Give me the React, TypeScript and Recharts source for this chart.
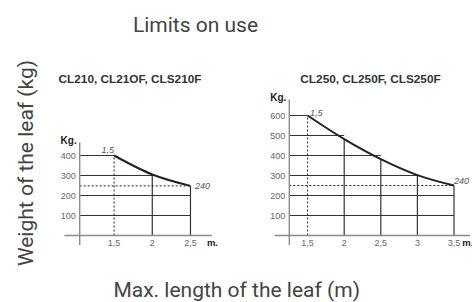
import React from 'react';
import { ComposedChart, Line, XAxis, YAxis, ReferenceLine } from 'recharts';

// ---- Left panel data (CL210 family) ----
const leftTitle = 'CL210, CL21OF, CLS210F';
const leftLengths = [1.5, 2, 2.5];
const leftWeights = [400, 305, 248];
const leftXTicks = [1.5, 2, 2.5];
const leftXTickLabels = ['1,5', '2', '2,5'];
const leftYTicks = [100, 200, 300, 400];
const leftStartLabel = '1,5';
const leftEndLabel = '240';

// ---- Right panel data (CL250 family) ----
const rightTitle = 'CL250, CL250F, CLS250F';
const rightLengths = [1.5, 2, 2.5, 3, 3.5];
const rightWeights = [600, 482, 382, 302, 250];
const rightXTicks = [1.5, 2, 2.5, 3, 3.5];
const rightXTickLabels = ['1,5', '2', '2,5', '3', '3,5'];
const rightYTicks = [100, 200, 300, 400, 500, 600];
const rightStartLabel = '1,5';
const rightEndLabel = '240';

// ---- Shared texts ----
const mainTitle = 'Limits on use';
const xAxisTitle = 'Max. length of the leaf (m)';
const yAxisTitle = 'Weight of the leaf (kg)';
const yUnit = 'Kg.';
const xUnit = 'm.';

const SANS = '"Liberation Sans", Arial, sans-serif';
const ROBOTO = 'Roboto, "Noto Sans", sans-serif';

type PanelProps = {
  lengths: number[];
  weights: number[];
  xTicks: number[];
  xTickLabels: string[];
  yTicks: number[];
  startLabel: string;
  endLabel: string;
  xDomain: [number, number];
  yDomain: [number, number];
  xAxisExtent: [number, number];
  yAxisBottom: number;
  margin: { top: number; right: number; bottom: number; left: number };
  startLabelDx: number;
  startLabelDy: number;
  startAnchor: 'start' | 'end';
  endLabelDx: number;
  endLabelDy: number;
  mDx: number;
};

function Panel(p: PanelProps) {
  const data = p.lengths.map((x, i) => ({ x, w: p.weights[i] }));
  const last = data.length - 1;
  const x0 = p.xDomain[0];
  const xs = p.lengths;
  const ws = p.weights;

  // end of a horizontal grid line: the sample nearest to where the curve crosses it
  const gridEnd = (v: number) => {
    if (v <= ws[last]) return xs[last];
    for (let i = 0; i < last; i++) {
      if (ws[i] >= v && v >= ws[i + 1]) {
        const xi = xs[i] + ((ws[i] - v) / (ws[i] - ws[i + 1])) * (xs[i + 1] - xs[i]);
        let best = xs[0];
        for (const x of xs) if (Math.abs(x - xi) < Math.abs(best - xi)) best = x;
        return best;
      }
    }
    return xs[0];
  };

  const renderAnnot = (lp: any) => {
    const { x, y, index } = lp;
    if (index === 0) {
      return (
        <text x={x + p.startLabelDx} y={y + p.startLabelDy} textAnchor={p.startAnchor}
          fontSize={9} fontStyle="italic" fill="#555" fontFamily={SANS}>{p.startLabel}</text>
      );
    }
    if (index === last) {
      return (
        <text x={x + p.endLabelDx} y={y + p.endLabelDy} textAnchor="start"
          fontSize={9} fontStyle="italic" fill="#555" fontFamily={SANS}>{p.endLabel}</text>
      );
    }
    return <g />;
  };

  return (
    <div style={{ position: 'absolute', left: 0, top: 0 }}>
      <ComposedChart width={472} height={302} data={data} margin={p.margin}>
        <XAxis
          dataKey="x"
          type="number"
          domain={p.xDomain}
          ticks={p.xTicks}
          interval={0}
          allowDataOverflow
          tickFormatter={(v: number) => p.xTickLabels[p.xTicks.indexOf(v)]}
          axisLine={false}
          tickLine={false}
          tickSize={0}
          tickMargin={4}
          height={20}
          tick={{ fontSize: 9, fill: '#666', fontFamily: SANS }}
          label={{
            value: xUnit,
            content: (lp: any) => {
              const vb = lp.viewBox;
              return (
                <text x={vb.x + vb.width + p.mDx} y={vb.y + 10.5} fontSize={9.5} fontWeight="bold"
                  fill="#222" fontFamily={SANS}>{xUnit}</text>
              );
            },
          }}
        />
        <YAxis
          type="number"
          domain={p.yDomain}
          ticks={p.yTicks}
          interval={0}
          allowDataOverflow
          axisLine={false}
          tickLine={false}
          tickSize={0}
          tickMargin={4}
          width={30}
          tick={{ fontSize: 9, fill: '#666', fontFamily: SANS }}
          label={{
            value: yUnit,
            content: (lp: any) => {
              const vb = lp.viewBox;
              return (
                <text x={vb.x + vb.width - 3} y={vb.y + 1} textAnchor="end" fontSize={10}
                  fontWeight="bold" fill="#222" fontFamily={SANS}>{yUnit}</text>
              );
            },
          }}
        />
        {/* horizontal grid lines clipped at the curve */}
        {p.yTicks.map((v) => (
          <ReferenceLine key={'h' + v} ifOverflow="visible" stroke="#333" strokeWidth={1}
            segment={[{ x: x0, y: v }, { x: gridEnd(v), y: v }]} />
        ))}
        {/* vertical lines from axis to curve */}
        {data.slice(1).map((d) => (
          <ReferenceLine key={'v' + d.x} ifOverflow="visible" stroke="#333" strokeWidth={1.2}
            segment={[{ x: d.x, y: 0 }, { x: d.x, y: d.w }]} />
        ))}
        {/* dashed guides */}
        <ReferenceLine ifOverflow="visible" stroke="#222" strokeWidth={1} strokeDasharray="2 2"
          segment={[{ x: xs[0], y: 0 }, { x: xs[0], y: ws[0] }]} />
        <ReferenceLine ifOverflow="visible" stroke="#222" strokeWidth={1} strokeDasharray="2 2"
          segment={[{ x: x0, y: ws[last] }, { x: xs[last], y: ws[last] }]} />
        {/* axis lines */}
        <ReferenceLine ifOverflow="visible" stroke="#8c8c8c" strokeWidth={1.4}
          segment={[{ x: p.xAxisExtent[0], y: 0 }, { x: p.xAxisExtent[1], y: 0 }]} />
        <ReferenceLine ifOverflow="visible" stroke="#8c8c8c" strokeWidth={1.4}
          segment={[{ x: x0, y: p.yAxisBottom }, { x: x0, y: p.yDomain[1] }]} />
        <Line dataKey="w" type="monotone" stroke="#222" strokeWidth={2} dot={false}
          isAnimationActive={false} label={renderAnnot} />
      </ComposedChart>
    </div>
  );
}

export default function App() {
  return (
    <div style={{ position: 'absolute', left: 0, top: 0, width: 472, height: 302, background: '#fff', overflow: 'hidden' }}>
      <Panel
        lengths={leftLengths}
        weights={leftWeights}
        xTicks={leftXTicks}
        xTickLabels={leftXTickLabels}
        yTicks={leftYTicks}
        startLabel={leftStartLabel}
        endLabel={leftEndLabel}
        xDomain={[1.05, 2.8]}
        yDomain={[0, 465]}
        xAxisExtent={[0.85, 2.78]}
        yAxisBottom={-47}
        margin={{ top: 142.5, right: 258.6, bottom: 46.5, left: 49.7 }}
        startLabelDx={0}
        startLabelDy={-3}
        startAnchor="end"
        endLabelDx={4.5}
        endLabelDy={3}
        mDx={-6.5}
      />
      <Panel
        lengths={rightLengths}
        weights={rightWeights}
        xTicks={rightXTicks}
        xTickLabels={rightXTickLabels}
        yTicks={rightYTicks}
        startLabel={rightStartLabel}
        endLabel={rightEndLabel}
        xDomain={[1.25, 3.75]}
        yDomain={[0, 680]}
        xAxisExtent={[1.05, 3.72]}
        yAxisBottom={-47}
        margin={{ top: 99.5, right: -0.3, bottom: 46.5, left: 259.3 }}
        startLabelDx={2.5}
        startLabelDy={0}
        startAnchor="start"
        endLabelDx={0}
        endLabelDy={-1.5}
        mDx={-10}
      />
      <svg width={472} height={302} style={{ position: 'absolute', left: 0, top: 0, pointerEvents: 'none' }}>
        <text x={195.5} y={31.7} textAnchor="middle" fontSize={21} fill="#444" fontFamily={ROBOTO}>{mainTitle}</text>
        <text x={130} y={82.5} textAnchor="middle" fontSize={11.8} fontWeight="bold" fill="#333" fontFamily={SANS}>{leftTitle}</text>
        <text x={370.5} y={82.5} textAnchor="middle" fontSize={11.8} fontWeight="bold" fill="#333" fontFamily={SANS}>{rightTitle}</text>
        <text x={236.7} y={296.7} textAnchor="middle" fontSize={21} fill="#444" fontFamily={ROBOTO}>{xAxisTitle}</text>
        <text transform="rotate(-90)" x={-163} y={33.3} textAnchor="middle" fontSize={21} fill="#444" fontFamily={ROBOTO}>{yAxisTitle}</text>
      </svg>
    </div>
  );
}
